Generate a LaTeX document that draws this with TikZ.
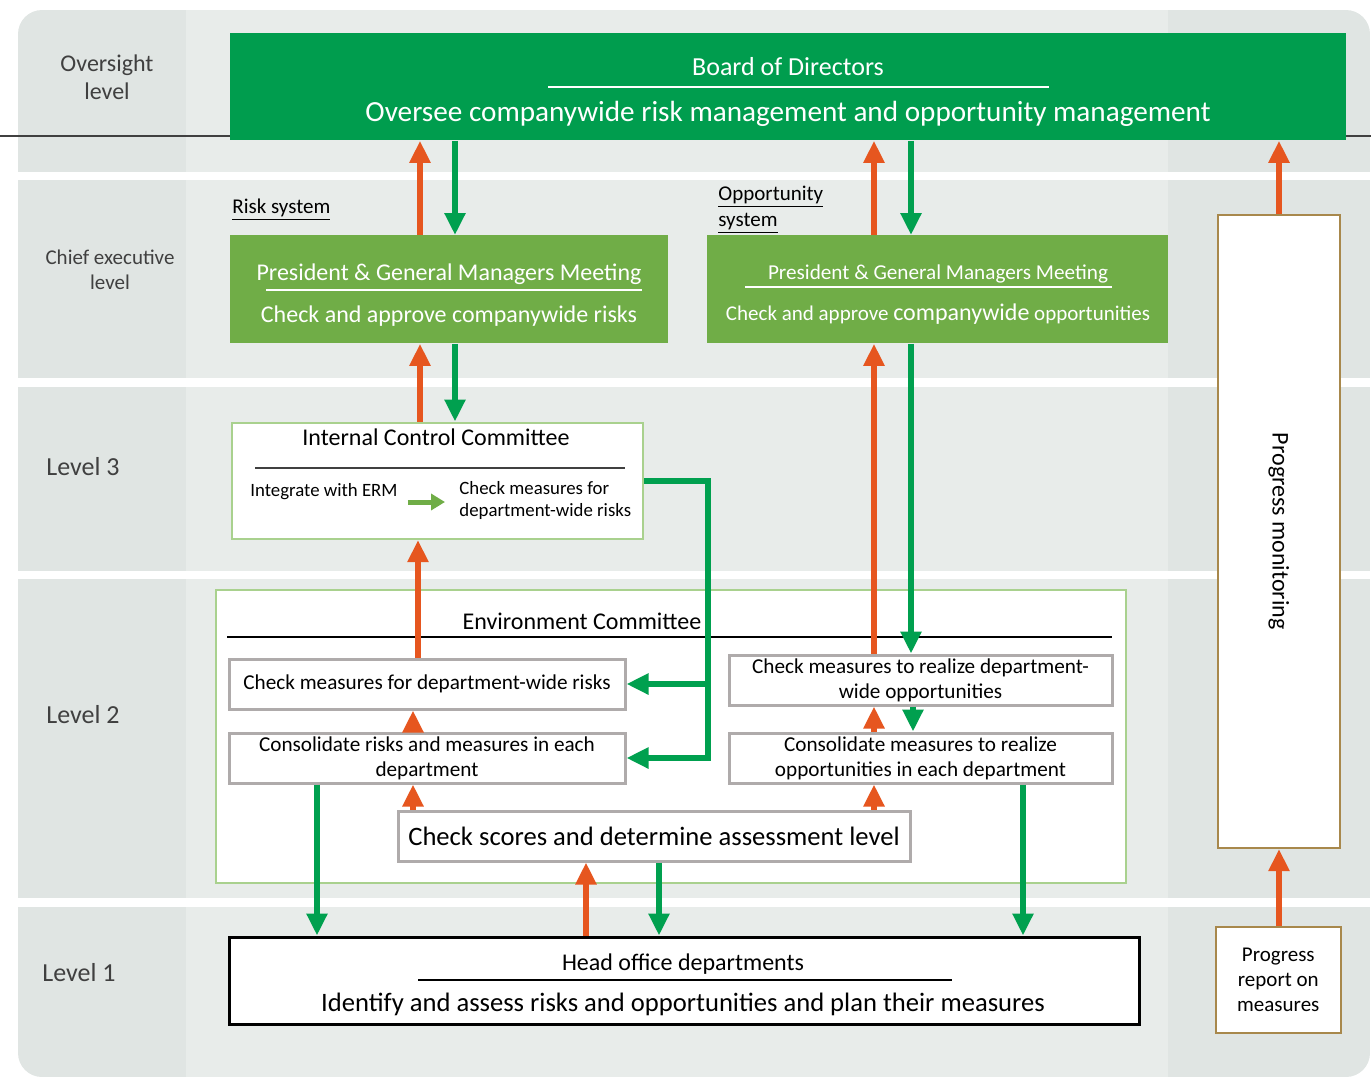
\documentclass[tikz,border=0pt]{standalone}
\usepackage{fontspec}
\setmainfont{Carlito}
\usetikzlibrary{arrows.meta,positioning}
\definecolor{bandgray}{HTML}{E0E5E3}
\definecolor{midgray}{HTML}{E8ECEA}
\definecolor{boardgreen}{HTML}{009D4E}
\definecolor{pgmgreen}{HTML}{70AD47}
\definecolor{arrgreen}{HTML}{00A04F}
\definecolor{arrorange}{HTML}{E6561F}
\definecolor{lightgreen}{HTML}{A9D18E}
\definecolor{boxgray}{HTML}{AFABAB}
\definecolor{trackbrown}{HTML}{A8884C}
\definecolor{lvltext}{HTML}{404040}
\newcommand{\reportline}[3]{%
  \draw[upflow] (#2.north -| #1) -- (#3.south -| #1)}
\newcommand{\directline}[3]{%
  \draw[downflow] (#2.south -| #1) -- (#3.north -| #1)}
\newcommand{\fsz}[2]{\fontsize{#1}{#2}\selectfont}

\begin{document}
\begin{tikzpicture}[x=0.5pt, y=-0.5pt,
    >={Triangle[length=11pt,width=10pt]},
    lvl/.style={text=lvltext, align=center},
    board/.style={fill=boardgreen, anchor=north west, inner sep=0pt,
      minimum width=558pt, minimum height=53.5pt},
    pgm/.style={fill=pgmgreen, anchor=north west, inner sep=0pt,
      minimum height=54pt},
    wtxt/.style={text=white},
    ctee/.style={draw=lightgreen, line width=1.3pt, fill=white,
      anchor=north west, inner sep=0pt},
    stepbox/.style={draw=boxgray, line width=1.5pt, fill=white,
      anchor=north west, inner sep=0pt, align=center,
      font=\fsz{10.6}{12.5}},
    track/.style={draw=trackbrown, line width=1.3pt, fill=white,
      anchor=north west, inner sep=0pt, align=center},
    upflow/.style={->, arrorange, line width=3pt},
    downflow/.style={->, arrgreen, line width=3pt}]
  \useasboundingbox (0,0) rectangle (1371,1077);

  % bands
  \begin{scope}
    \clip[rounded corners=12pt] (18,10) rectangle (1370,1077);
    \fill[bandgray] (18,10) rectangle (1370,1077);
    \fill[midgray] (186,10) rectangle (1168,1077);
    \foreach \ya/\yb in {172/180, 378/387, 571/579, 898/907}
      \fill[white] (18,\ya) rectangle (1371,\yb);
  \end{scope}
  \draw[lvltext, line width=0.6pt] (0,136) -- (1371,136);

  \node[lvl, font=\fsz{12}{14}] (lvlover) at (107,77) {Oversight\\level};
  \node[lvl, font=\fsz{10.5}{12.5}] (lvlchief) at (110,270) {Chief executive\\level};
  \node[lvl, font=\fsz{13}{15}] (lvlthree) at (83,467) {Level 3};
  \node[lvl, font=\fsz{13}{15}] (lvltwo) at (83,715) {Level 2};
  \node[lvl, font=\fsz{13}{15}] (lvlone) at (79,973) {Level 1};

  % oversight
  \node[board] (board) at (230,33) {};
  \node[wtxt, font=\fsz{13}{15}] (boardname) at (788,67) {Board of Directors};
  \draw[white, line width=0.8pt] (548,87) -- (1049,87);
  \node[wtxt, font=\fsz{14.6}{17}] (boardtask) at (788,114)
    {Oversee companywide risk management and opportunity management};

  % chief executive
  \node[anchor=west, font=\fsz{10.5}{13}, inner sep=0pt] (risksys) at (232,210)
    {\underline{Risk system}};
  \node[anchor=west, align=left, font=\fsz{10.5}{13}, inner sep=0pt] (oppsys) at (718,210)
    {\underline{Opportunity}\\\underline{system}};
  \node[pgm, minimum width=219pt] (pgmr) at (230,235) {};
  \node[wtxt, font=\fsz{12}{14}] (pgmrname) at (449,274)
    {President \& General Managers Meeting};
  \draw[white, line width=0.7pt] (266,290) -- (642,290);
  \node[wtxt, font=\fsz{12}{14}] (pgmrtask) at (449,316)
    {Check and approve companywide risks};
  \node[pgm, minimum width=230.5pt] (pgmo) at (707,235) {};
  \node[wtxt, font=\fsz{10.6}{13}] (pgmoname) at (938,274)
    {President \& General Managers Meeting};
  \draw[white, line width=0.7pt] (745,287) -- (1112,287);
  \node[wtxt, font=\fsz{10.5}{13}] (pgmotask) at (938,314)
    {Check and approve {\fsz{12}{14}companywide} opportunities};

  % level 3
  \node[ctee, minimum width=205.5pt, minimum height=58pt] (icc) at (230.5,421.5) {};
  \node[font=\fsz{12}{14}] (iccname) at (436,437) {Internal Control Committee};
  \draw[lvltext, line width=0.8pt] (255,468) -- (625,468);
  \node[anchor=west, font=\fsz{9.4}{11}, inner sep=2pt] (icci) at (246,492)
    {Integrate with ERM};
  \node[anchor=west, align=left, font=\fsz{9.4}{11}, inner sep=2pt] (iccc) at (455,500)
    {Check measures for\\department-wide risks};
  \draw[-{Triangle[length=7pt,width=8pt]}, pgmgreen, line width=2.5pt,
    shorten <=3pt, shorten >=5pt]
    ([yshift=-5pt]icci.east) -- ([yshift=-5pt]icci.east -| iccc.west);

  % level 2
  \node[ctee, minimum width=455pt, minimum height=146.5pt] (env) at (214.5,588.5) {};
  \node[font=\fsz{12}{14}] (envname) at (582,621) {Environment Committee};
  \draw[black, line width=0.6pt] (227,637) -- (1112,637);
  \node[stepbox, minimum width=198pt, minimum height=25pt] (cmr) at (227.5,657.5)
    {Check measures for department-wide risks};
  \node[stepbox, minimum width=198pt, minimum height=25pt] (crm) at (227.5,731.5)
    {Consolidate risks and measures in each\\department};
  \node[stepbox, minimum width=191.5pt, minimum height=25pt] (cmo) at (727.5,653.5)
    {Check measures to realize department-\\wide opportunities};
  \node[stepbox, minimum width=191.5pt, minimum height=25pt] (co) at (727.5,731.5)
    {Consolidate measures to realize\\opportunities in each department};
  \node[stepbox, minimum width=256pt, minimum height=25pt, font=\fsz{13.3}{15}] (cs)
    at (396.5,809.5) {Check scores and determine assessment level};

  % level 1
  \node[draw=black, line width=1.5pt, fill=white, anchor=north west, inner sep=0pt,
    minimum width=455pt, minimum height=43.5pt] (ho) at (227.5,935.5) {};
  \node[font=\fsz{12}{14}] (honame) at (683,964) {Head office departments};
  \draw[black, line width=0.7pt] (418,980) -- (952,980);
  \node[font=\fsz{13.3}{15}] (hotask) at (683,1004)
    {Identify and assess risks and opportunities and plan their measures};

  % progress
  \node[track, minimum width=61pt, minimum height=316.5pt] (pm) at (1216.5,213.5) {};
  \node[rotate=-90, font=\fsz{12}{14}] (pmtxt) at (pm.center) {Progress monitoring};
  \node[track, minimum width=62.5pt, minimum height=53pt, font=\fsz{10.5}{12.5}] (pr)
    at (1214.5,925.5) {Progress\\report on\\measures};

  % columns of the flows
  \coordinate (riskup) at (420,0);
  \coordinate (riskdown) at (455,0);
  \coordinate (oppup) at (874,0);
  \coordinate (oppdown) at (911,0);
  \coordinate (trackup) at (1279,0);
  \coordinate (iccup) at (418,0);
  \coordinate (stepup) at (413,0);
  \coordinate (oppstep) at (913,0);
  \coordinate (riskho) at (317,0);
  \coordinate (scoreup) at (586,0);
  \coordinate (scoredown) at (659,0);
  \coordinate (oppho) at (1023,0);
  \coordinate (loopx) at (708,0);

  \reportline{riskup}{pgmr}{board};
  \directline{riskdown}{board}{pgmr};
  \reportline{oppup}{pgmo}{board};
  \directline{oppdown}{board}{pgmo};
  \reportline{trackup}{pm}{board};
  \reportline{riskup}{icc}{pgmr};
  \directline{riskdown}{pgmr}{icc};
  \reportline{iccup}{cmr}{icc};
  \reportline{oppup}{cmo}{pgmo};
  \directline{oppdown}{pgmo}{cmo};
  \reportline{stepup}{crm}{cmr};
  \reportline{stepup}{cs}{crm};
  \reportline{oppup}{co}{cmo};
  \directline{oppstep}{cmo}{co};
  \reportline{oppup}{cs}{co};
  \directline{riskho}{crm}{ho};
  \reportline{scoreup}{ho}{cs};
  \directline{scoredown}{cs}{ho};
  \directline{oppho}{co}{ho};
  \reportline{trackup}{pr}{pm};
  \draw[downflow] (icc.east) -| (loopx |- crm.east) -- (crm.east);
  \draw[downflow] (loopx |- cmr.east) -- (cmr.east);
\end{tikzpicture}
\end{document}
